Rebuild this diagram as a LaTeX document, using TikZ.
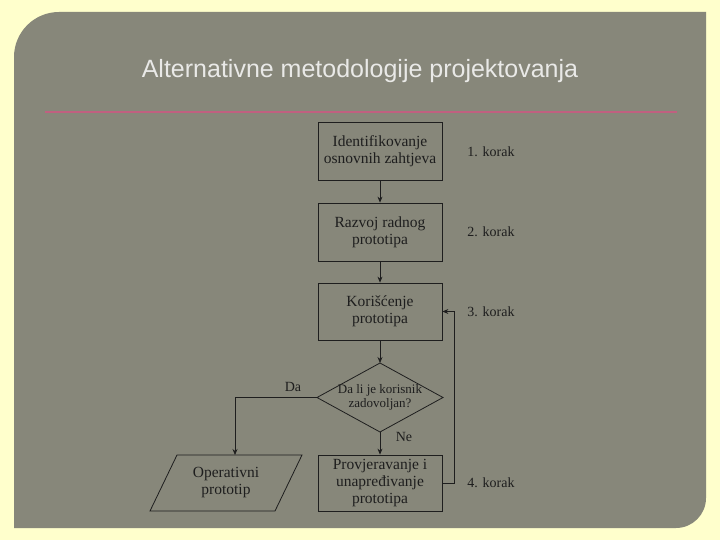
\documentclass[tikz,border=0pt]{standalone}
\usepackage{fontspec}
\setmainfont{Liberation Serif}
\newfontfamily\titlefont{Liberation Sans}
\usetikzlibrary{arrows.meta,shapes.geometric}
\definecolor{bgy}{HTML}{FFFFCC}
\definecolor{panel}{HTML}{87877A}
\definecolor{pinkl}{HTML}{C06080}
\definecolor{ink}{HTML}{1E1E1E}
\begin{document}
\begin{tikzpicture}[x=1pt,y=-1pt,
  box/.style={draw=ink,line width=0.8pt,minimum width=124pt,minimum height=58pt,align=center,font=\fontsize{15.5}{17}\selectfont,text=ink,inner sep=1pt},
  lab/.style={font=\fontsize{14}{15}\selectfont,text=ink},
  arr/.style={draw=ink,line width=0.7pt,-{Stealth[length=6pt,width=5pt]}},
  ln/.style={draw=ink,line width=0.8pt}]
\fill[bgy] (0,0) rectangle (720,540);
\fill[panel] (14,528) -- (14,57) arc[start angle=180,end angle=270,radius=45] -- (706,12) -- (706,498) arc[start angle=0,end angle=90,radius=30] -- cycle;
\node[font=\titlefont\fontsize{25}{28}\selectfont,text=white!82!panel] (title) at (360,71) {Alternativne metodologije projektovanja};
\draw[pinkl,line width=1.2pt] (45,112) -- (677,112);
\node[box] (b1) at (380,151.5) {Identifikovanje\\osnovnih zahtjeva};
\node[box] (b2) at (380,232) {Razvoj radnog\\prototipa};
\node[box,minimum height=57pt] (b3) at (380,311.5) {Korišćenje\\prototipa};
\coordinate (dt) at (380,363);
\coordinate (db) at (380,432);
\coordinate (dl) at (317,397.5);
\coordinate (dr) at (443,397.5);
\draw[ln] (dt) -- (dr) -- (db) -- (dl) -- cycle;
\node[align=center,font=\fontsize{13}{14}\selectfont,text=ink] (d) at (380,397.5) {Da li je korisnik\\zadovoljan?};
\node[box,minimum height=56pt] (b4) at (380,483) {Provjeravanje i\\unapređivanje\\prototipa};
\coordinate (p1) at (177,455);
\coordinate (p2) at (302,455);
\coordinate (p3) at (275,511);
\coordinate (p4) at (150,511);
\draw[ln] (p1) -- (p2) -- (p3) -- (p4) -- cycle;
\node[align=center,font=\fontsize{15.5}{17}\selectfont,text=ink] (p) at (226,483) {Operativni\\prototip};
\coordinate (pt) at (235,455);
\node[lab] (k1) at (491,152) {1. korak};
\node[lab] (k2) at (491,232) {2. korak};
\node[lab] (k3) at (491,312) {3. korak};
\node[lab] (k4) at (491,483) {4. korak};
\node[lab] (da) at (293,387) {Da};
\node[lab] (ne) at (404,437) {Ne};
\draw[arr] (b1) -- (b2);
\draw[arr] (b2) -- (b3);
\draw[arr] (b3) -- (dt);
\draw[arr] (db) -- (b4);
\draw[arr] (dl) -| (pt);
\draw[arr] (b4.east) -- (454,483) |- (b3.east);
\end{tikzpicture}
\end{document}
